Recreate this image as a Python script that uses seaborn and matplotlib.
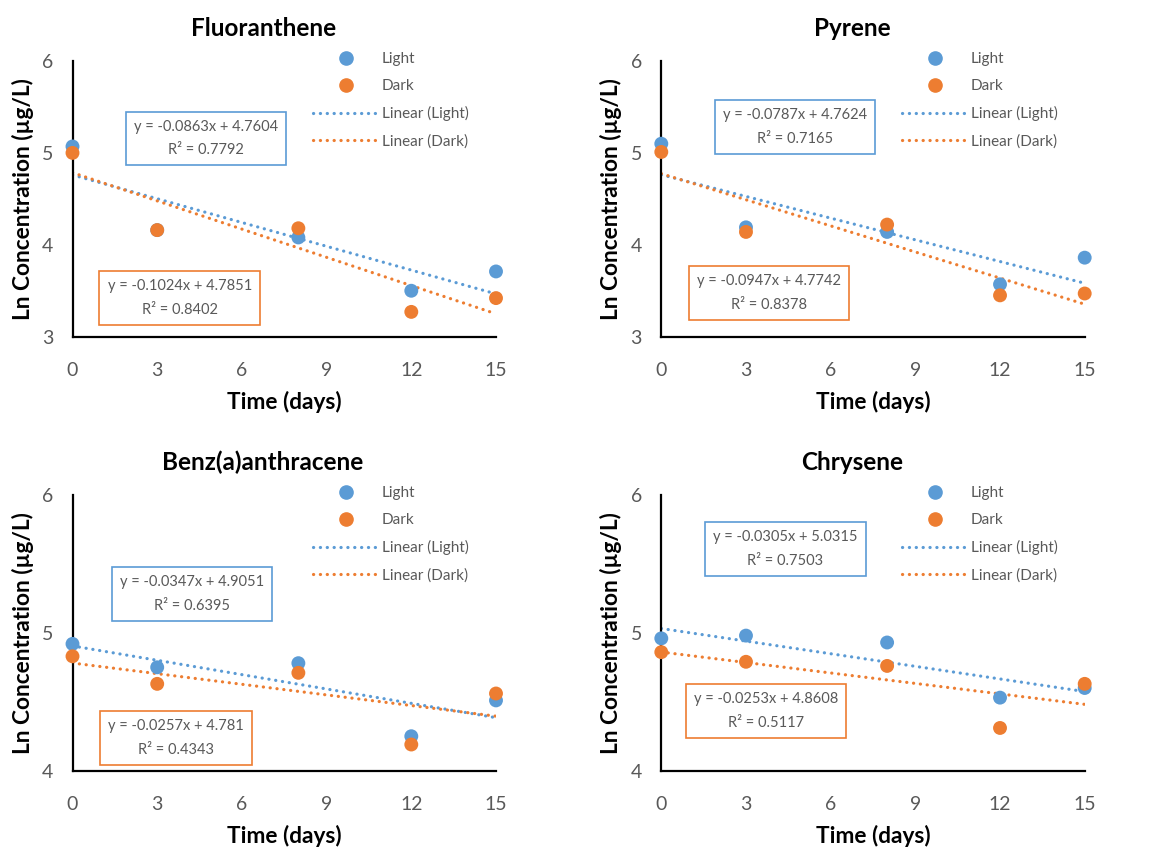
import matplotlib
matplotlib.use("Agg")
import matplotlib.pyplot as plt
from matplotlib.lines import Line2D
import numpy as np
import pandas as pd
import seaborn as sns

# ---- data -------------------------------------------------------------
days = [0, 3, 8, 12, 15]
compounds = ["Fluoranthene", "Pyrene", "Benz(a)anthracene", "Chrysene"]

fluoranthene_light = [5.07, 4.16, 4.08, 3.50, 3.71]
fluoranthene_dark = [5.00, 4.16, 4.18, 3.27, 3.42]
pyrene_light = [5.10, 4.19, 4.14, 3.57, 3.86]
pyrene_dark = [5.01, 4.14, 4.22, 3.45, 3.47]
benz_light = [4.92, 4.75, 4.78, 4.25, 4.51]
benz_dark = [4.83, 4.63, 4.71, 4.19, 4.56]
chrysene_light = [4.96, 4.98, 4.93, 4.53, 4.60]
chrysene_dark = [4.86, 4.79, 4.76, 4.31, 4.63]

# linear trendline coefficients per compound
light_slopes = [-0.0863, -0.0787, -0.0347, -0.0305]
light_intercepts = [4.7604, 4.7624, 4.9051, 5.0315]
light_r2 = [0.7792, 0.7165, 0.6395, 0.7503]
dark_slopes = [-0.1024, -0.0947, -0.0257, -0.0253]
dark_intercepts = [4.7851, 4.7742, 4.781, 4.8608]
dark_r2 = [0.8402, 0.8378, 0.4343, 0.5117]

y_limits = [(3, 6), (3, 6), (4, 6), (4, 6)]
x_ticks = [0, 3, 6, 9, 12, 15]

light_series = [fluoranthene_light, pyrene_light, benz_light, chrysene_light]
dark_series = [fluoranthene_dark, pyrene_dark, benz_dark, chrysene_dark]

# ---- style ------------------------------------------------------------
sns.set_theme(style="white")
plt.rcParams["font.family"] = ["Lato", "DejaVu Sans"]

BLUE = "#5B9BD5"
ORANGE = "#ED7D31"
GRAY = "#595959"

W, H = 1168, 851
fig = plt.figure(figsize=(W / 100, H / 100), dpi=100)

# axes rectangles in pixels: left, top, right, bottom
axes_px = [
    (72.5, 61, 496, 336.7),
    (661.3, 61, 1084.7, 336.7),
    (72.5, 495, 496, 770.7),
    (661.3, 495, 1084.7, 770.7),
]
# equation box centres (axes fraction)
light_box_pos = [(0.315, 0.719), (0.315, 0.759), (0.282, 0.642), (0.293, 0.805)]
dark_box_pos = [(0.253, 0.140), (0.254, 0.160), (0.244, 0.119), (0.248, 0.216)]


def fmt(v):
    return f"{abs(v):.4f}".rstrip("0").rstrip(".")


def equation(slope, intercept, r2):
    sign = "-" if slope < 0 else ""
    op = "+" if intercept >= 0 else "-"
    return f"y = {sign}{fmt(slope)}x {op} {fmt(intercept)}\nR² = {fmt(r2)}"


dot_style = dict(linewidth=2.3, linestyle=(0, (0.05, 2.1)), dash_capstyle="round")

for i, name in enumerate(compounds):
    l, t, r, b = axes_px[i]
    ax = fig.add_axes([l / W, 1 - b / H, (r - l) / W, (b - t) / H])

    df = pd.DataFrame({
        "Time": days * 2,
        "Value": light_series[i] + dark_series[i],
        "Series": ["Light"] * len(days) + ["Dark"] * len(days),
    })

    # trendlines from the stated coefficients
    xs = np.array([0, 15])
    light_trend = pd.DataFrame({"Time": xs, "Value": light_intercepts[i] + light_slopes[i] * xs})
    dark_trend = pd.DataFrame({"Time": xs, "Value": dark_intercepts[i] + dark_slopes[i] * xs})
    sns.lineplot(data=light_trend, x="Time", y="Value", color=BLUE, ax=ax,
                 legend=False, zorder=2, **dot_style)
    sns.lineplot(data=dark_trend, x="Time", y="Value", color=ORANGE, ax=ax,
                 legend=False, zorder=2, **dot_style)

    sns.scatterplot(data=df, x="Time", y="Value", hue="Series",
                    palette={"Light": BLUE, "Dark": ORANGE}, s=100,
                    edgecolor="none", ax=ax, legend=False, zorder=3, clip_on=False)

    ax.set_xlim(0, 15)
    ax.set_ylim(*y_limits[i])
    ax.set_xticks(x_ticks)
    ax.set_yticks(range(y_limits[i][0], y_limits[i][1] + 1))
    ax.tick_params(length=0, labelsize=14, labelcolor=GRAY)
    ax.tick_params(axis="x", pad=18)
    ax.tick_params(axis="y", pad=14)
    for side in ("top", "right"):
        ax.spines[side].set_visible(False)
    for side in ("left", "bottom"):
        ax.spines[side].set_color("black")
        ax.spines[side].set_linewidth(1.6)
    ax.grid(False)

    ax.set_xlabel("Time (days)", fontsize=16.3, fontweight="bold", color="black", va="center")
    ax.xaxis.set_label_coords(0.5, -65 / (b - t))
    ax.set_ylabel("Ln Concentration (µg/L)", fontsize=16.3, fontweight="bold",
                  color="black", va="center")
    ax.yaxis.set_label_coords(-50 / (r - l), 0.5)

    ax.text(0.45, 1 + 33 / (b - t), name, transform=ax.transAxes, ha="center",
            va="center", fontsize=17.5, fontweight="bold", color="black")

    box_kw = dict(transform=ax.transAxes, ha="center", va="center", fontsize=10.5,
                  color=GRAY, linespacing=1.9, zorder=4)
    ax.text(*light_box_pos[i], equation(light_slopes[i], light_intercepts[i], light_r2[i]),
            bbox=dict(boxstyle="square,pad=0.55", fc="white", ec=BLUE, lw=1.2), **box_kw)
    ax.text(*dark_box_pos[i], equation(dark_slopes[i], dark_intercepts[i], dark_r2[i]),
            bbox=dict(boxstyle="square,pad=0.55", fc="white", ec=ORANGE, lw=1.2), **box_kw)

    handles = [
        Line2D([], [], marker="o", linestyle="none", color=BLUE, markersize=9.5),
        Line2D([], [], marker="o", linestyle="none", color=ORANGE, markersize=9.5),
        Line2D([], [], color=BLUE, **dot_style),
        Line2D([], [], color=ORANGE, **dot_style),
    ]
    labels = ["Light", "Dark", "Linear (Light)", "Linear (Dark)"]
    leg_left = (313 - 72.5) / (r - l)
    leg = ax.legend(handles, labels, loc="upper left", bbox_to_anchor=(leg_left, 1.031),
                    frameon=False, fontsize=11, handlelength=4.3, handletextpad=0.2,
                    labelspacing=0.85, borderpad=0, borderaxespad=0)
    for txt in leg.get_texts():
        txt.set_color(GRAY)

fig.savefig("out.png", dpi=100, facecolor="white")
